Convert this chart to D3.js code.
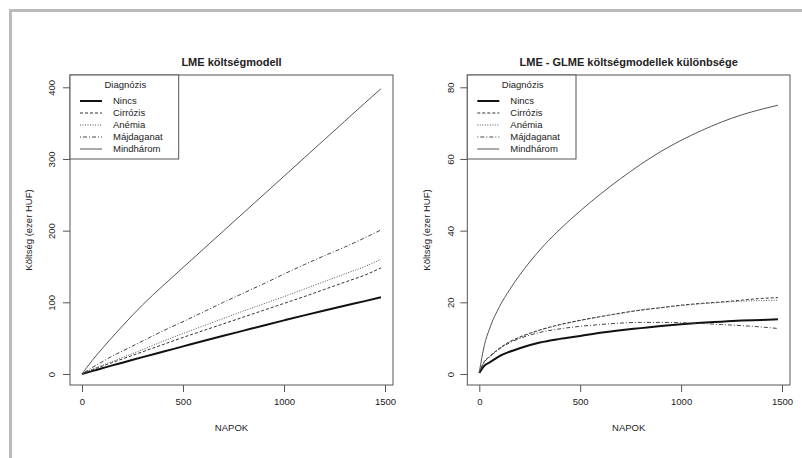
<!DOCTYPE html>
<html><head><meta charset="utf-8">
<script src="https://cdn.jsdelivr.net/npm/d3@7"></script>
<style>body{margin:0;background:#fff}svg{display:block}text{font-family:"Liberation Sans",Arial,sans-serif;fill:#222}</style>
</head><body><svg id="c" width="802" height="458"></svg>
<script>
const days = [0,25,50,100,150,200,300,400,500,600,700,800,900,1000,1100,1200,1300,1400,1480];
const seriesNames = ["Nincs","Cirrózis","Anémia","Májdaganat","Mindhárom"];
// Left panel: LME cost model
const lmeNincs      = [0,2,4,8,12,15.8,23.5,31,38.5,46,53.3,60.5,67.7,74.8,81.8,88.6,95.2,101.7,107];
const lmeCirrozis   = [0,3,5.8,11,16,21,31,41,51,60.5,70,79.5,89,98.5,108,118,128,138,148];
const lmeAnemia     = [0,3.2,6.3,12,17.5,23,34,45.5,56.5,67,77.5,88,98,108,118.5,129,139.5,150,160];
const lmeMajdaganat = [0,4.5,9,17,25,32,46,60,73,86.5,100,113,126,139.5,152.5,165,177,190,201];
const lmeMindharom  = [0,9.5,18.7,35.5,51.5,67,96.5,123,148.5,174,199.5,225,250.5,276,301.5,327,352.5,378,398];
// Right panel: LME - GLME difference
const difNincs      = [0.3,2.3,3.2,5,6.2,7.2,8.8,9.8,10.6,11.5,12.2,12.8,13.4,13.9,14.3,14.6,14.9,15.1,15.3];
const difCirrozis   = [0.5,3.5,4.8,7.2,9,10.3,12.3,13.8,15,16,17,17.8,18.5,19.2,19.7,20.1,20.6,21.1,21.3];
const difAnemia     = [0.5,3.4,4.8,7.1,8.9,10.2,12.2,13.7,14.9,16,16.9,17.9,18.5,19.1,19.6,20,20.3,20.5,20.6];
const difMajdaganat = [0.5,3.4,4.7,7,8.7,9.9,11.6,12.6,13.3,13.8,14.2,14.4,14.4,14.3,14.1,13.8,13.5,13.1,12.7];
const difMindharom  = [0.5,8,12.5,18.8,23.5,27.6,34.6,40.4,45.5,50.2,54.5,58.5,62.1,65.2,67.9,70.3,72.3,73.9,75];
const xTicks = [0,500,1000,1500];
const yTicksLeft = [0,100,200,300,400];
const yTicksRight = [0,20,40,60,80];

const styles = [
  {w:2, dash:null, c:"#111"},
  {w:1, dash:"3,2", c:"#333"},
  {w:1, dash:"1,1.5", c:"#555"},
  {w:1, dash:"1,2,4,2", c:"#444"},
  {w:1, dash:null, c:"#555"}
];

const svg = d3.select("#c");
// frame
svg.append("rect").attr("x",9).attr("y",9).attr("width",800).attr("height",3).attr("fill","#bbb");
svg.append("rect").attr("x",9).attr("y",9).attr("width",3).attr("height",460).attr("fill","#bbb");

function panel(cfg){
  const g = svg.append("g");
  const x = d3.scaleLinear().domain([0,1500]).range([cfg.x0, cfg.x1]);
  const y = d3.scaleLinear().domain([0,cfg.yMax]).range([374, 87.3]);
  const bx = cfg.bx0, bw = cfg.bx1 - cfg.bx0, by = 75, bh = 310;
  g.append("text").attr("x", bx+bw/2).attr("y", 66).attr("text-anchor","middle")
    .style("font-size","11px").style("font-weight","bold").text(cfg.title);
  // series
  const line = d3.line().x((d,i)=>x(days[i])).y(d=>y(d)).curve(d3.curveMonotoneX);
  cfg.data.forEach((arr,k)=>{
    const s = styles[k];
    g.append("path").attr("d", line(arr)).attr("fill","none").attr("stroke", s.c)
      .attr("stroke-width", s.w).attr("stroke-dasharray", s.dash);
  });
  // axes
  const xa = g.append("g").attr("transform",`translate(0,${by+bh})`)
    .call(d3.axisBottom(x).tickValues(xTicks).tickSize(7).tickPadding(6).tickFormat(d3.format("d")));
  const ya = g.append("g").attr("transform",`translate(${bx},0)`)
    .call(d3.axisLeft(y).tickValues(cfg.yTicks).tickSize(7).tickFormat(d3.format("d")));
  [xa,ya].forEach(a=>{ a.select(".domain").remove(); a.selectAll("line").attr("stroke","#555");
    a.selectAll("text").style("font-size","9.5px").style("font-family","Liberation Sans, Arial, sans-serif").attr("fill","#222"); });
  ya.selectAll(".tick text").attr("transform","rotate(-90)").attr("text-anchor","middle")
    .attr("x",0).attr("dx",0).attr("y", -(bx - cfg.ytl)).attr("dy","0.35em");
  // box
  g.append("rect").attr("x",bx).attr("y",by).attr("width",bw).attr("height",bh)
    .attr("fill","none").attr("stroke","#555").attr("stroke-width",1);
  // labels
  g.append("text").attr("x", bx+bw/2).attr("y", 431).attr("text-anchor","middle")
    .style("font-size","9.5px").text("NAPOK");
  g.append("text").attr("transform",`translate(${cfg.ylab},230) rotate(-90)`).attr("text-anchor","middle")
    .attr("dy","0.35em").style("font-size","9.5px").text("Költség (ezer HUF)");
  // legend
  const lx = bx, lw = cfg.legW;
  g.append("rect").attr("x",lx).attr("y",by).attr("width",lw).attr("height",84)
    .attr("fill","#fff").attr("stroke","#555").attr("stroke-width",1);
  g.append("text").attr("x", lx+lw/2+1).attr("y", 85).attr("dy","0.35em").attr("text-anchor","middle")
    .style("font-size","9.5px").text("Diagnózis");
  seriesNames.forEach((n,k)=>{
    const yy = 101 + k*12;
    const s = styles[k];
    g.append("line").attr("x1",lx+10).attr("x2",lx+32).attr("y1",yy).attr("y2",yy)
      .attr("stroke",s.c).attr("stroke-width",s.w).attr("stroke-dasharray",s.dash);
    g.append("text").attr("x",lx+43).attr("y",yy).attr("dy","0.35em").style("font-size","9.5px").text(n);
  });
}

panel({title:"LME költségmodell", x0:82, x1:385, bx0:70, bx1:393, yMax:400, yTicks:yTicksLeft,
  ytl:52, ylab:29, legW:108.7,
  data:[lmeNincs,lmeCirrozis,lmeAnemia,lmeMajdaganat,lmeMindharom]});
panel({title:"LME - GLME költségmodellek különbsége", x0:479.3, x1:782, bx0:467.3, bx1:790, yMax:80, yTicks:yTicksRight,
  ytl:450.7, ylab:427, legW:108.7,
  data:[difNincs,difCirrozis,difAnemia,difMajdaganat,difMindharom]});
</script></body></html>
